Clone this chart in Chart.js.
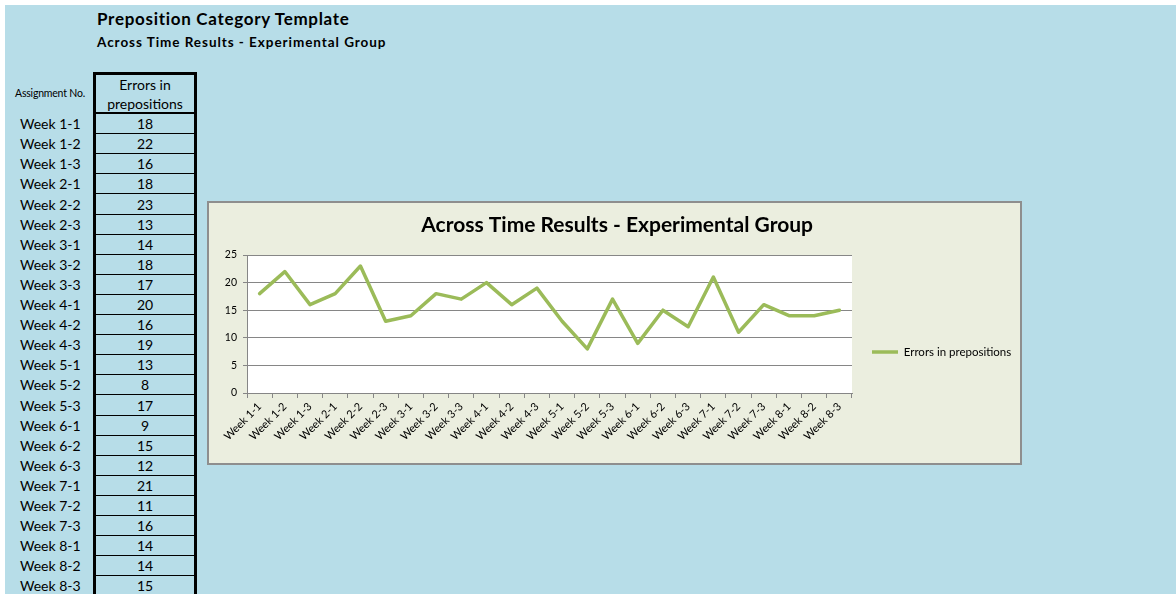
<!DOCTYPE html>
<html>
<head>
<meta charset="utf-8">
<script src="https://cdn.jsdelivr.net/npm/chart.js@4.4.0/dist/chart.umd.min.js"></script>
<style>
  body { margin: 0; background: #fff; font-family: Lato, "Open Sans", sans-serif; color: #000; }
  #sheet { position: absolute; left: 5px; top: 5px; right: 0; bottom: 0; width: 1171px; height: 589px; background: #b7dde8; overflow: hidden; }
  .abs { position: absolute; white-space: nowrap; }
  .lab { position: absolute; left: 15px; font-size: 14px; }
  .cell { position: absolute; left: 91px; width: 98px; font-size: 14px; text-align: center; border-bottom: 1px solid #000; box-sizing: border-box; }
  #chartBox { position: absolute; left: 202px; top: 196px; width: 815px; height: 264px; box-sizing: border-box; border: 2px solid #8e8e8e; background: #ebeedf; }
  #chartBox canvas { position: absolute; left: 0; top: 0; }
</style>
</head>
<body>
<div id="sheet">
  <div class="abs" style="left:92px;top:4px;font-size:17px;font-weight:bold;line-height:20px;letter-spacing:0.7px;">Preposition Category Template</div>
  <div class="abs" style="left:92px;top:29px;font-size:13.5px;font-weight:bold;line-height:16px;letter-spacing:0.95px;">Across Time Results - Experimental Group</div>
  <div class="abs" style="left:10px;top:82px;font-size:10.5px;line-height:12px;letter-spacing:-0.2px;">Assignment No.</div>
  <div class="abs" style="left:88px;top:67px;width:104px;height:540px;box-sizing:border-box;border:3px solid #000;border-bottom:none;"></div>
  <div class="abs" style="left:91px;top:70px;width:98px;text-align:center;font-size:14px;line-height:19px;">Errors in<br>prepositions</div>
  <div class="abs" style="left:91px;top:107px;width:98px;height:2px;background:#000;"></div>
  <div id="rows"></div>
  <div id="chartBox"><canvas id="chart" width="811" height="260"></canvas></div>
</div>
<script>
const weeks = ['Week 1-1', 'Week 1-2', 'Week 1-3', 'Week 2-1', 'Week 2-2', 'Week 2-3',
  'Week 3-1', 'Week 3-2', 'Week 3-3', 'Week 4-1', 'Week 4-2', 'Week 4-3',
  'Week 5-1', 'Week 5-2', 'Week 5-3', 'Week 6-1', 'Week 6-2', 'Week 6-3',
  'Week 7-1', 'Week 7-2', 'Week 7-3', 'Week 8-1', 'Week 8-2', 'Week 8-3'];
const errors = [18, 22, 16, 18, 23, 13, 14, 18, 17, 20, 16, 19,
  13, 8, 17, 9, 15, 12, 21, 11, 16, 14, 14, 15];
const seriesName = 'Errors in prepositions';
const chartTitle = 'Across Time Results - Experimental Group';
const yTicks = [0, 5, 10, 15, 20, 25];

// spreadsheet rows (sheet is offset 5px from the page)
const rows = document.getElementById('rows');
weeks.forEach((w, i) => {
  const top = Math.round(109 + i * 20.1);
  const h = Math.round(109 + (i + 1) * 20.1) - top;
  const lab = document.createElement('div');
  lab.className = 'lab';
  lab.style.top = top + 'px';
  lab.style.lineHeight = h + 'px';
  lab.textContent = w;
  rows.appendChild(lab);
  const cell = document.createElement('div');
  cell.className = 'cell';
  cell.style.top = top + 'px';
  cell.style.height = h + 'px';
  cell.style.lineHeight = h + 'px';
  cell.textContent = errors[i];
  rows.appendChild(cell);
});

// white plot area
const plotBg = {
  id: 'plotBg',
  beforeDraw(chart) {
    const { ctx, chartArea: a } = chart;
    ctx.save();
    ctx.fillStyle = '#ffffff';
    ctx.fillRect(a.left, a.top, a.width, a.height);
    ctx.restore();
  }
};

const target = { left: 38, top: 52, right: 643, bottom: 190 };
const gridColor = '#868686';

const chart = new Chart(document.getElementById('chart'), {
  type: 'line',
  data: {
    labels: weeks,
    datasets: [{
      label: seriesName,
      data: errors,
      borderColor: '#9bbb59',
      backgroundColor: '#9bbb59',
      borderWidth: 3.5,
      borderJoinStyle: 'round',
      borderCapStyle: 'round',
      pointRadius: 0,
      tension: 0
    }]
  },
  options: {
    responsive: false,
    animation: false,
    layout: { padding: { left: 4, right: 0, top: 0, bottom: 0 } },
    plugins: {
      title: {
        display: true,
        text: chartTitle,
        color: '#000',
        font: { family: 'Lato', size: 21, weight: 'bold' },
        padding: { top: 10, bottom: 17 }
      },
      legend: {
        position: 'right',
        title: { display: true, text: ' ', font: { size: 10 }, padding: { top: 0, bottom: 26 } },
        labels: {
          usePointStyle: true,
          pointStyle: 'line',
          pointStyleWidth: 26,
          boxWidth: 26,
          padding: 20,
          color: '#000',
          font: { family: 'Lato', size: 11.5 }
        }
      },
      tooltip: { enabled: false }
    },
    scales: {
      x: {
        offset: true,
        grid: { offset: true, drawOnChartArea: false, drawTicks: true, tickLength: 5, color: gridColor },
        border: { color: gridColor },
        ticks: { autoSkip: false, minRotation: 45, maxRotation: 45, padding: 2, color: '#000', font: { family: 'Lato', size: 11 } },
        afterFit(s) { s.height = 260 - target.bottom; }
      },
      y: {
        min: yTicks[0],
        max: yTicks[yTicks.length - 1],
        grid: { color: gridColor, tickLength: 4 },
        border: { color: gridColor },
        ticks: { stepSize: yTicks[1] - yTicks[0], padding: 6, color: '#000', font: { family: 'Lato', size: 10.5 } },
        afterFit(s) { s.width = target.left - 4; }
      }
    }
  },
  plugins: [plotBg]
});

// nudge plot area onto the spot it has in the original
const dr = chart.chartArea.right - target.right;
const dt = chart.chartArea.top - target.top;
if (dr || dt) {
  chart.options.layout.padding.right += dr;
  chart.options.plugins.title.padding.bottom -= dt;
  chart.update();
}
</script>
</body>
</html>
